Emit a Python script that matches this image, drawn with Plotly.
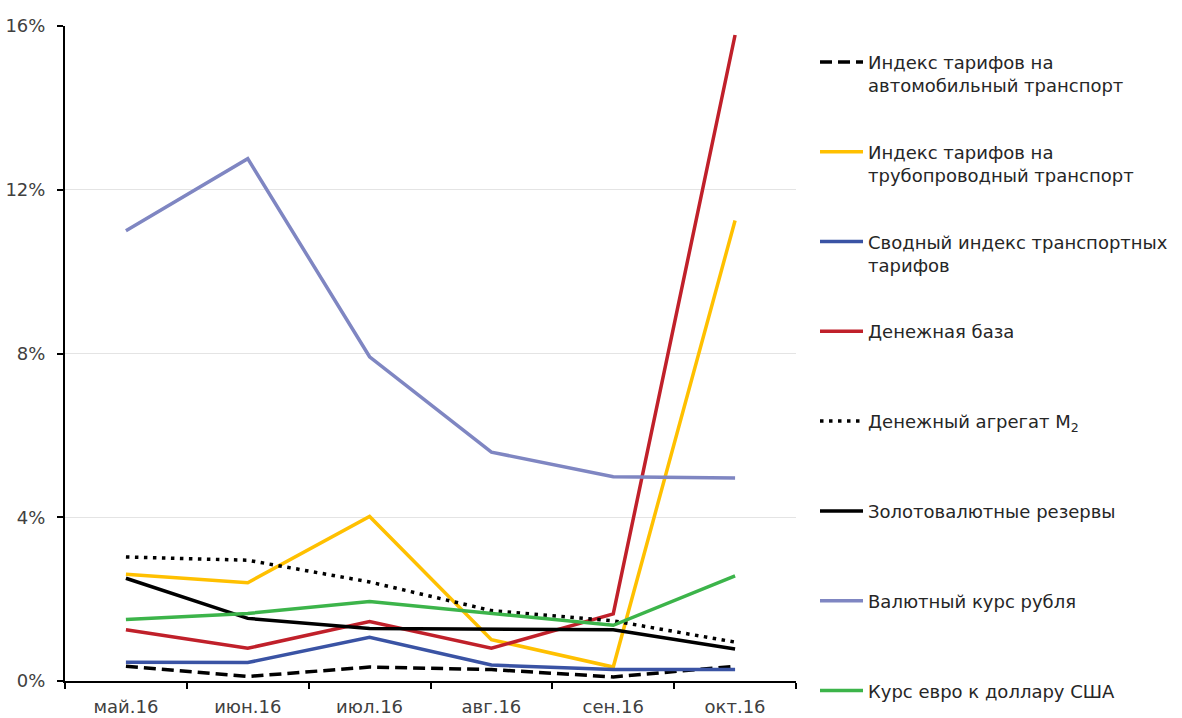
import plotly.graph_objects as go

months = ["май.16", "июн.16", "июл.16", "авг.16", "сен.16", "окт.16"]

auto_tariff = [0.36, 0.11, 0.34, 0.28, 0.10, 0.36]
pipe_tariff = [2.61, 2.40, 4.02, 1.01, 0.34, 11.25]
total_tariff = [0.46, 0.45, 1.07, 0.39, 0.28, 0.28]
money_base = [1.25, 0.80, 1.45, 0.80, 1.64, 15.78]
m2 = [3.03, 2.95, 2.42, 1.72, 1.47, 0.95]
reserves = [2.51, 1.53, 1.28, 1.27, 1.25, 0.78]
rub_rate = [11.00, 12.76, 7.92, 5.59, 4.99, 4.96]
eur_usd = [1.50, 1.65, 1.94, 1.64, 1.36, 2.57]

series = [
    ("Индекс тарифов на<br>автомобильный транспорт", auto_tariff, "#000000", "12px,6px"),
    ("Индекс тарифов на<br>трубопроводный транспорт", pipe_tariff, "#FFC000", "solid"),
    ("Сводный индекс транспортных<br>тарифов", total_tariff, "#3A53A4", "solid"),
    ("Денежная база<br> ", money_base, "#C0202A", "solid"),
    ("Денежный агрегат M<sub>2</sub><br> ", m2, "#000000", "3.5px,5.5px"),
    ("Золотовалютные резервы<br> ", reserves, "#000000", "solid"),
    ("Валютный курс рубля<br> ", rub_rate, "#7F86C2", "solid"),
    ("Курс евро к доллару США", eur_usd, "#3CB44A", "solid"),
]

fig = go.Figure()
for i, (name, vals, color, dash) in enumerate(series):
    fig.add_trace(go.Scatter(
        x=months, y=vals, name=name, mode="lines",
        line=dict(color=color, width=3.5, dash=dash),
        legendgroup=f"g{i}",
    ))

font_family = "'DejaVu Sans', 'Noto Sans', sans-serif"
fig.update_layout(
    width=1182, height=718,
    margin=dict(l=65, r=386, t=26, b=37, autoexpand=False),
    paper_bgcolor="white", plot_bgcolor="white",
    font=dict(family=font_family, size=17, color="#404040"),
    showlegend=True,
    legend=dict(
        x=1.026, xanchor="left", y=0.973, yanchor="top",
        font=dict(family=font_family, size=18, color="#262626"),
        tracegroupgap=40, valign="top", itemwidth=43,
        bgcolor="rgba(0,0,0,0)", maxheight=718,
    ),
    xaxis=dict(
        type="category", range=[-0.5, 5.5],
        showline=True, linecolor="black", linewidth=2,
        ticks="outside", tickson="boundaries", ticklen=6, tickcolor="black", tickwidth=1.5,
        showgrid=False, tickfont=dict(size=18, color="#404040"),
        ticklabelstandoff=8,
    ),
    yaxis=dict(
        range=[0, 16], dtick=4, ticksuffix="%",
        showline=True, linecolor="black", linewidth=2,
        ticks="outside", ticklen=6, tickcolor="black", tickwidth=1.5,
        showgrid=True, gridcolor="#E4E4E4", gridwidth=1,
        zeroline=False, tickfont=dict(size=18, color="#404040"),
        ticklabelstandoff=8,
    ),
)

fig.write_html("out.html", config={"displayModeBar": False},
               post_script="document.body.style.margin='0';")
